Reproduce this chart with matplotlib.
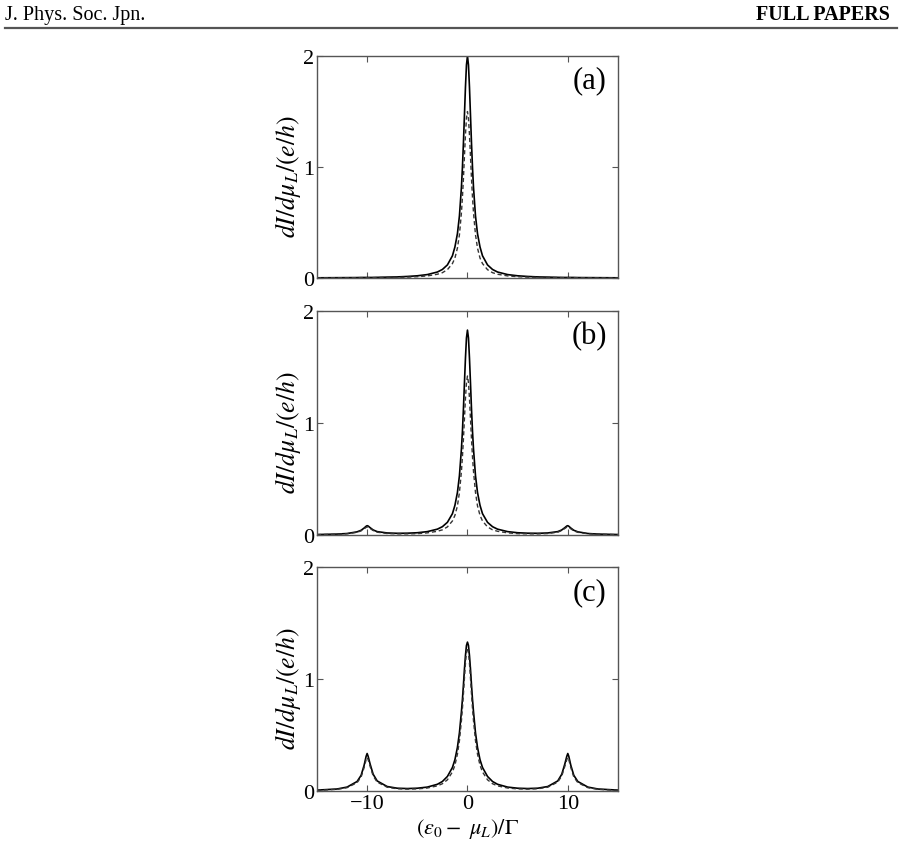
import numpy as np
import matplotlib
matplotlib.use('Agg')
import matplotlib.pyplot as plt

plt.rcParams['font.family'] = ['Liberation Serif', 'DejaVu Serif']
plt.rcParams['mathtext.fontset'] = 'stix'

# ==============================
# Data (curves are symmetric, only x >= 0 listed)
# ==============================
x_half = [0, 0.1, 0.2, 0.3, 0.4, 0.5, 0.6, 0.8, 1.0, 1.25, 1.5, 2, 2.5, 3, 4, 5,
          6, 7, 8, 9, 9.4, 9.7, 9.9, 10, 10.1, 10.3, 10.6, 11, 12, 13, 15]

a_solid = [2.0, 1.92, 1.72, 1.47, 1.22, 1.0, 0.82, 0.56, 0.40, 0.28, 0.20, 0.118, 0.077,
           0.054, 0.031, 0.020, 0.014, 0.010, 0.008, 0.006, 0.005, 0.005, 0.005, 0.005,
           0.005, 0.005, 0.005, 0.004, 0.0035, 0.003, 0.002]
a_dash = [1.5, 1.44, 1.29, 1.10, 0.90, 0.73, 0.59, 0.39, 0.27, 0.18, 0.13, 0.075, 0.048,
          0.034, 0.019, 0.012, 0.008, 0.006, 0.005, 0.004, 0.004, 0.003, 0.003, 0.003,
          0.003, 0.003, 0.003, 0.003, 0.002, 0.002, 0.001]

b_solid = [1.83, 1.76, 1.58, 1.36, 1.13, 0.93, 0.77, 0.53, 0.38, 0.265, 0.19, 0.113, 0.074,
           0.052, 0.030, 0.020, 0.016, 0.015, 0.018, 0.030, 0.045, 0.065, 0.080, 0.083,
           0.078, 0.062, 0.042, 0.028, 0.013, 0.008, 0.004]
b_dash = [1.42, 1.36, 1.22, 1.04, 0.86, 0.70, 0.57, 0.38, 0.26, 0.175, 0.125, 0.072, 0.046,
          0.033, 0.019, 0.012, 0.010, 0.010, 0.013, 0.025, 0.040, 0.058, 0.070, 0.072,
          0.068, 0.055, 0.037, 0.024, 0.011, 0.006, 0.003]

c_solid = [1.33, 1.30, 1.21, 1.09, 0.95, 0.82, 0.71, 0.52, 0.39, 0.28, 0.21, 0.13, 0.085,
           0.060, 0.035, 0.025, 0.022, 0.025, 0.040, 0.090, 0.15, 0.24, 0.31, 0.335,
           0.31, 0.23, 0.14, 0.085, 0.035, 0.018, 0.008]
c_dash = [1.28, 1.24, 1.14, 1.01, 0.87, 0.74, 0.63, 0.45, 0.33, 0.23, 0.17, 0.10, 0.065,
          0.046, 0.027, 0.019, 0.017, 0.020, 0.034, 0.080, 0.135, 0.22, 0.28, 0.30,
          0.28, 0.21, 0.125, 0.075, 0.030, 0.015, 0.006]

panel_labels = ['(a)', '(b)', '(c)']
x_ticks = [-10, 0, 10]
y_ticks = [0, 1, 2]


def mirror(xs, ys):
    xs = np.asarray(xs, float)
    ys = np.asarray(ys, float)
    return (np.concatenate([-xs[:0:-1], xs]),
            np.concatenate([ys[:0:-1], ys]))


# ==============================
# Figure
# ==============================
fig = plt.figure(figsize=(9.02, 8.45), dpi=100)

# page header
fig.text(0.006, 0.982, 'J. Phys. Soc. Jpn.', fontsize=14.5, ha='left', va='center')
fig.text(0.987, 0.982, 'FULL PAPERS', fontsize=14.5, fontweight='bold', ha='right', va='center')
fig.add_artist(plt.Line2D([0.006, 0.995], [0.966, 0.966], color='#555555', lw=1.6))

positions = [
    [0.3514, 0.6698, 0.3337, 0.2627],
    [0.3514, 0.3657, 0.3337, 0.2650],
    [0.3514, 0.0627, 0.3337, 0.2650],
]
series = [(a_solid, a_dash), (b_solid, b_dash), (c_solid, c_dash)]

for i, (pos, (sol, dsh)) in enumerate(zip(positions, series)):
    ax = fig.add_axes(pos)
    xs, ys = mirror(x_half, sol)
    ax.plot(xs, ys, color='black', lw=1.2)
    xd, yd = mirror(x_half, dsh)
    ax.plot(xd, yd, color='#333333', lw=1.0, ls=(0, (3, 2)))

    ax.set_xlim(-15, 15)
    ax.set_ylim(0, 2)
    ax.set_xticks(x_ticks)
    ax.set_yticks(y_ticks)
    ax.tick_params(direction='in', top=True, right=True, length=4,
                   labelsize=16, color='#555555', pad=2)
    for sp in ax.spines.values():
        sp.set_color('#555555')
        sp.set_linewidth(1.0)
    if i < 2:
        ax.set_xticklabels([])
    else:
        ax.set_xticklabels(['\u221210', '0', '10'])
        ax.set_xlabel(r'$(\varepsilon_0 -\ \mu_L)/\Gamma$', fontsize=16, labelpad=2)

    ax.set_ylabel(r'$dI/d\mu_L/(e/h)$', fontsize=18.5)
    ax.yaxis.set_label_coords(-0.045, 0.46)
    ax.text(0.905, 0.892, panel_labels[i], transform=ax.transAxes,
            fontsize=22, ha='center', va='center')

fig.savefig('out.png', dpi=100)
plt.close()
